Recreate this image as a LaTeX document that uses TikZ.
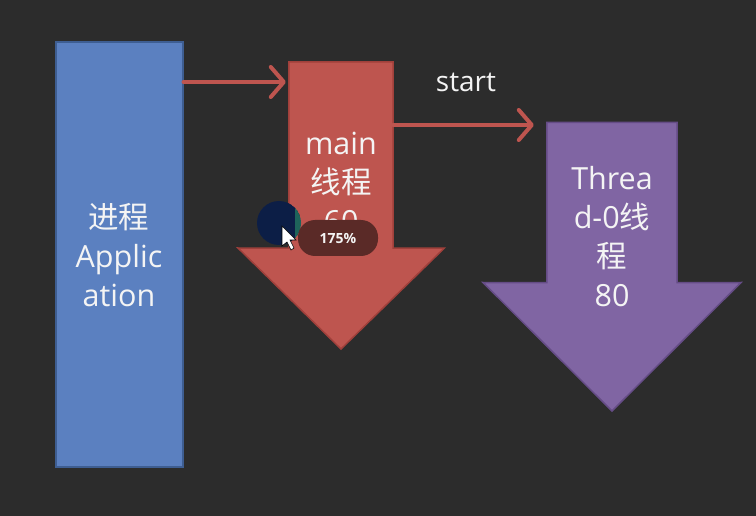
\documentclass[tikz,border=0pt]{standalone}
\usepackage{fontspec}
\setmainfont{Open Sans}
\newfontfamily\cjk{Noto Sans CJK SC}
\usetikzlibrary{arrows.meta,calc}
\definecolor{board}{HTML}{2C2C2C}
\definecolor{procfill}{HTML}{5B80C0}
\definecolor{procedge}{HTML}{3E5E92}
\definecolor{mainfill}{HTML}{BE554F}
\definecolor{mainedge}{HTML}{A0403B}
\definecolor{thrfill}{HTML}{8065A3}
\definecolor{thredge}{HTML}{654C86}
\definecolor{chalk}{HTML}{F4F4F4}
\definecolor{badge}{HTML}{5A2A27}
\definecolor{dotnavy}{HTML}{0C1E46}
\definecolor{dotgreen}{HTML}{1E645A}
\tikzset{
  x=1pt, y=-1pt,
  procbox/.style={draw=procedge, line width=2pt, fill=procfill, minimum width=127pt, minimum height=424pt, inner sep=0pt},
  shaftbox/.style={inner sep=0pt, draw=none},
  label/.style={text=chalk, font=\fontsize{30.5}{41}\selectfont, align=center, inner sep=0pt},
  link/.style={draw=mainfill, line width=4pt, line cap=round,
    -{Straight Barb[length=13pt,width=30pt,line cap=round,line join=round]}},
}
\begin{document}
\begin{tikzpicture}
  % chalkboard
  \fill[board] (0,0) rectangle (756,516);
  \useasboundingbox (0,0) rectangle (756,516);

  % process block
  \node[procbox] (app) at (119,254.5) {};
  \node[label] (applbl) at (119,255) {{\cjk 进程}\\[-2pt]Applic\\[-2pt]ation};

  % main thread arrow
  \node[shaftbox, minimum width=104pt, minimum height=186pt] (mainbody) at (341,155) {};
  \coordinate (maintip) at (341,349);
  \draw[mainedge, fill=mainfill, line width=1.5pt, line join=miter]
    (mainbody.north west) -- (mainbody.north east) -- (mainbody.south east)
    -- ++(51,0) -- (maintip) -- (238,248) -- (mainbody.south west) -- cycle;
  \node[label] (mainlbl) at (341,182) {main\\[-2pt]{\cjk 线程}\\[-2pt]60};

  % thread-0 arrow
  \node[shaftbox, minimum width=130pt, minimum height=160pt] (thrbody) at (612,202.5) {};
  \coordinate (thrtip) at (612,411);
  \draw[thredge, fill=thrfill, line width=1.5pt, line join=miter]
    (thrbody.north west) -- (thrbody.north east) -- (thrbody.south east)
    -- (741,282.5) -- (thrtip) -- (483,282.5) -- (thrbody.south west) -- cycle;
  \node[label] (thrlbl) at (612,237) {Threa\\[-2pt]d-0{\cjk 线}\\[-2pt]{\cjk 程}\\[-2pt]80};

  % connectors
  \draw[link] (app.east |- 0,82) -- ($(mainbody.west |- 0,82)+(-3,0)$);
  \draw[link] (mainbody.east |- 0,125) -- ($(thrbody.west |- 0,125)+(-13,0)$);
  \node[label, font=\fontsize{28}{30}\selectfont] (startlbl) at (466,82) {start};

  % screen pointer and zoom badge
  \begin{scope}
    \clip (279,223) circle (22);
    \fill[dotnavy] (279,223) circle (22);
    \fill[dotgreen] (295,195) rectangle (305,250);
  \end{scope}
  \node[fill=badge, rounded corners=17pt, minimum width=80pt, minimum height=36pt, inner sep=0pt,
        text=chalk, font=\fontsize{14}{16}\selectfont\bfseries] (zoom) at (338,238) {175\%};
  \fill[white, draw=black, line width=0.6pt]
    (282,226) -- (282,246) -- (287,242) -- (291,250) -- (294,248) -- (290,240) -- (296,240) -- cycle;
\end{tikzpicture}
\end{document}
